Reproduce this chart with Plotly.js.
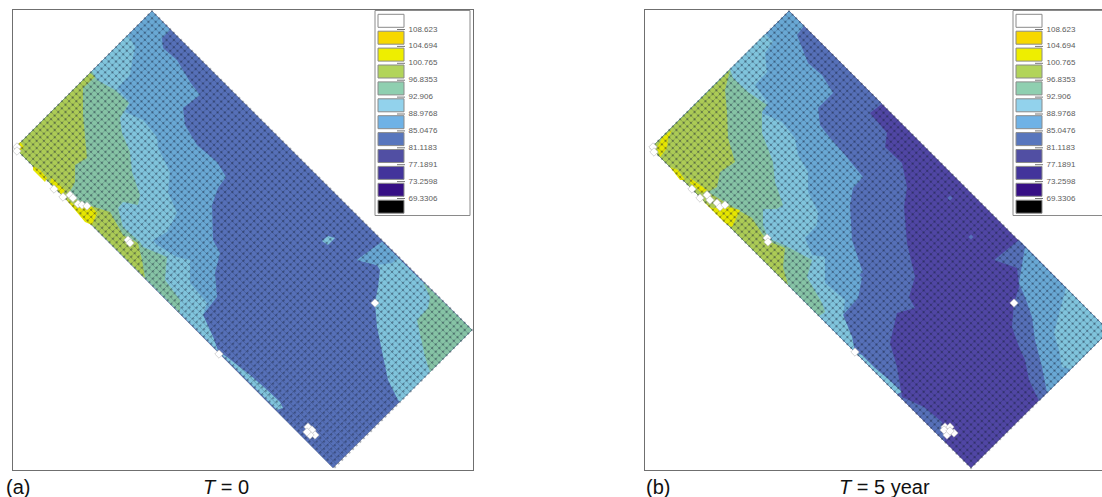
<!DOCTYPE html>
<html><head><meta charset="utf-8">
<script src="https://cdn.plot.ly/plotly-3.0.1.min.js"></script>
<style>html,body{margin:0;padding:0;background:#fff}#c{width:1102px;height:497px}</style></head>
<body><div id="c"></div><script>
// Legend
const legendLabels=['108.623','104.694','100.765','96.8353','92.906','88.9768','85.0476','81.1183','77.1891','73.2598','69.3306'];
const legendColors=['#ffffff','#f7d800','#eeee00','#b2d45a','#8fcfb0','#92d2ec','#6fb2e6','#5876bd','#514fa3','#43349b','#360f85','#000000'];
const C={w:'#ffffff',c105:'#f7d800',c101:'#e6e600',c97:'#accb56',c93:'#86c3a5',c89:'#80c4dc',c85:'#69a8d4',c81:'#5670b8',c77:'#5046a4'};
// Panel (a) mesh rectangle corners (top, right, bottom, left)
const aRect=[[152,11],[472,330],[333,468],[15,148]];
const bRect=[[789,11],[1109,331],[971,468],[651,148]];
const meshCells=[88,38];
// Panel (a) zones
const a85=[[152,11],[170,30],[162,38],[163,48],[177,60],[190,82],[200,95],[183,108],[185,125],[197,145],[217,162],[226,177],[218,188],[212,205],[213,240],[220,253],[215,273],[217,297],[203,315],[213,337],[218,351],[15,148]];
const aStrip=[[218,351],[227,357],[250,375],[265,388],[280,402],[283,408],[277,410]];
const a89=[[128,35],[135,47],[132,62],[130,75],[117,88],[130,103],[125,112],[143,120],[157,137],[158,148],[170,172],[168,192],[177,213],[167,232],[153,240],[157,245],[177,257],[190,260],[190,283],[207,303],[203,315],[213,337],[218,351],[15,148]];
const a93=[[92,71],[97,80],[115,90],[129,103],[120,118],[122,133],[130,152],[132,172],[140,195],[138,205],[123,202],[118,208],[123,227],[140,242],[143,247],[167,257],[165,280],[180,300],[180,313],[15,148]];
const a97=[[90,73],[95,77],[83,88],[83,115],[87,158],[75,165],[75,182],[68,195],[85,204],[97,208],[110,212],[123,235],[138,243],[142,260],[145,278],[15,148]];
const aY1=[[20,142],[24,147],[20,151],[17,146]];
const aY2=[[33,166],[40,170],[47,178],[45,182],[33,170]];
const aY3=[[52,178],[65,190],[62,195],[50,182]];
const aY4=[[65,198],[78,208],[90,205],[97,213],[92,225],[85,222]];
const aE89=[[382,242],[357,260],[377,265],[380,270],[378,287],[375,303],[377,327],[383,357],[388,380],[398,400],[400,402],[472,330]];
const aE85=[[382,242],[357,260],[377,265],[392,263],[398,258]];
const aE93=[[423,282],[430,297],[428,308],[417,320],[422,343],[425,357],[430,372],[472,330]];
const aSpot=[[322,241],[328,236],[335,238],[328,245]];
const aWhiteX=[17,17,54,63,70,73,78,82,87,128,130,219,375,308,312,315,310,307];
const aWhiteY=[147,151,189,197,195,198,204,205,206,240,243,354,303,427,430,435,435,432];
// Panel (b) zones
const bE81=[[1019,240],[994,260],[1017,268],[1019,287],[1014,303],[1012,327],[1019,347],[1025,360],[1029,380],[1039,401],[1109,331]];
const bE85=[[1025,247],[1022,267],[1019,283],[1025,297],[1032,317],[1035,340],[1042,367],[1047,393],[1109,331]];
const bE89=[[1066,288],[1059,313],[1054,333],[1059,350],[1062,367],[1071,369],[1109,331]];
const b81=[[789,11],[882,104],[870,113],[887,133],[885,147],[902,163],[907,187],[904,207],[907,243],[915,277],[909,297],[915,308],[897,313],[890,343],[897,367],[902,397],[924,407],[942,422],[945,442],[651,148]];
const b85=[[789,11],[804,26],[797,35],[802,48],[808,63],[822,75],[833,93],[818,108],[820,125],[830,138],[845,155],[863,177],[853,188],[850,205],[852,240],[863,273],[858,298],[843,315],[852,337],[855,352],[651,148]];
const bStrip=[[855,352],[862,355],[875,368],[887,378],[902,392],[897,394]];
const b89=[[765,34],[773,42],[765,53],[767,72],[755,85],[768,103],[760,112],[782,122],[795,138],[798,155],[808,172],[808,192],[818,212],[817,225],[805,238],[812,255],[825,257],[825,283],[845,300],[843,315],[852,337],[855,352],[651,148]];
const b93=[[730,69],[733,78],[748,92],[767,105],[762,112],[762,133],[773,162],[775,182],[783,205],[777,209],[763,209],[763,225],[768,238],[788,247],[812,260],[807,277],[822,303],[825,312],[819,316],[651,148]];
const b97=[[730,70],[725,90],[727,112],[728,138],[735,162],[720,172],[717,187],[708,192],[738,210],[752,218],[763,235],[773,243],[785,248],[783,267],[788,285],[651,148]];
const bY1=[[672,130],[662,138],[657,148],[660,157],[667,148],[668,138]];
const bY2=[[670,167],[678,170],[685,180],[680,180]];
const bY3=[[690,178],[707,190],[702,193],[690,183]];
const bY4=[[702,200],[712,208],[727,207],[740,210],[732,227],[725,223]];
const bWhiteX=[653,654,692,700,707,710,717,720,725,767,768,855,1014,945,950,954,947,944,950];
const bWhiteY=[147,152,189,198,195,200,203,207,205,238,242,352,303,427,427,433,435,430,431];
const bSpotX=[950,971,862];const bSpotY=[198,237,275];

const W=1102,H=497;
function poly(pts,color,xa,ya){return {type:'scatter',mode:'lines',x:pts.map(p=>p[0]).concat(pts[0][0]),y:pts.map(p=>p[1]).concat(pts[0][1]),fill:'toself',fillcolor:color,line:{width:0},hoverinfo:'skip',showlegend:false,xaxis:xa,yaxis:ya};}
function mesh(r,xa,ya){const x=[],y=[];const [T,R,B,L]=r;const [n,m]=meshCells;
 for(let i=0;i<=n;i++){const f=i/n;x.push(T[0]+(R[0]-T[0])*f,L[0]+(B[0]-L[0])*f,null);y.push(T[1]+(R[1]-T[1])*f,L[1]+(B[1]-L[1])*f,null);}
 for(let j=0;j<=m;j++){const f=j/m;x.push(T[0]+(L[0]-T[0])*f,R[0]+(B[0]-R[0])*f,null);y.push(T[1]+(L[1]-T[1])*f,R[1]+(B[1]-R[1])*f,null);}
 return {type:'scatter',mode:'lines',x,y,line:{color:'rgba(28,38,62,0.3)',width:0.7},hoverinfo:'skip',showlegend:false,xaxis:xa,yaxis:ya};}
// dark gaps left between the round cells, at the mesh nodes
function nodes(r,xa,ya){const x=[],y=[];const [T,R,B,L]=r;const [n,m]=meshCells;
 for(let i=0;i<=n;i++)for(let j=0;j<=m;j++){const f=i/n,g=j/m;x.push(T[0]+(R[0]-T[0])*f+(L[0]-T[0])*g);y.push(T[1]+(R[1]-T[1])*f+(L[1]-T[1])*g);}
 return {type:'scatter',mode:'markers',x,y,marker:{symbol:'diamond',size:2.2,color:'rgba(24,32,54,0.34)',line:{width:0}},hoverinfo:'skip',showlegend:false,xaxis:xa,yaxis:ya};}
function whites(x,y,xa,ya){return {type:'scatter',mode:'markers',x,y,marker:{symbol:'diamond',size:6.5,color:'#fff',line:{color:'#aaa',width:0.5}},hoverinfo:'skip',showlegend:false,xaxis:xa,yaxis:ya};}
const traces=[
 poly(aRect,C.c81,'x','y'),poly(aE89,C.c89,'x','y'),poly(aE85,C.c85,'x','y'),poly(aE93,C.c93,'x','y'),poly(aSpot,C.c89,'x','y'),
 poly(a85,C.c85,'x','y'),poly(aStrip,C.c89,'x','y'),poly(a89,C.c89,'x','y'),poly(a93,C.c93,'x','y'),poly(a97,C.c97,'x','y'),
 poly(aY1,C.c101,'x','y'),poly(aY2,C.c101,'x','y'),poly(aY3,C.c101,'x','y'),poly(aY4,C.c101,'x','y'),
 mesh(aRect,'x','y'),nodes(aRect,'x','y'),whites(aWhiteX,aWhiteY,'x','y'),
 poly(bRect,C.c77,'x2','y2'),poly(bE81,C.c81,'x2','y2'),poly(bE85,C.c85,'x2','y2'),poly(bE89,C.c89,'x2','y2'),
 poly(b81,C.c81,'x2','y2'),poly(b85,C.c85,'x2','y2'),poly(bStrip,C.c89,'x2','y2'),poly(b89,C.c89,'x2','y2'),poly(b93,C.c93,'x2','y2'),poly(b97,C.c97,'x2','y2'),
 poly(bY1,C.c101,'x2','y2'),poly(bY2,C.c101,'x2','y2'),poly(bY3,C.c101,'x2','y2'),poly(bY4,C.c101,'x2','y2'),
 mesh(bRect,'x2','y2'),nodes(bRect,'x2','y2'),whites(bWhiteX,bWhiteY,'x2','y2'),
 {type:'scatter',mode:'markers',x:bSpotX,y:bSpotY,marker:{symbol:'diamond',size:4,color:C.c81},hoverinfo:'skip',showlegend:false,xaxis:'x2',yaxis:'y2'}
];
const shapes=[];
function legend(x0,right,xa,ya){
 shapes.push({type:'rect',xref:xa,yref:ya,x0:x0,x1:right,y0:10.5,y1:215.5,fillcolor:'#fff',line:{color:'#8a8a8a',width:1},layer:'below'});
 legendColors.forEach((c,i)=>{const t=14.3+16.9*i;
  shapes.push({type:'rect',xref:xa,yref:ya,x0:x0+3,x1:x0+29,y0:t,y1:t+13,fillcolor:c,line:{color:'#8a8a8a',width:1},layer:'below'});});
 legendLabels.forEach((c,i)=>{const t=29.5+16.9*i;
  shapes.push({type:'line',xref:xa,yref:ya,x0:x0+22,x1:x0+30,y0:t,y1:t,line:{color:'#777',width:1},layer:'below'});});
 traces.push({type:'scatter',mode:'text',x:legendLabels.map(()=>x0+33.5),y:legendLabels.map((c,i)=>29.5+16.9*i),text:legendLabels,textposition:'middle right',textfont:{family:'Liberation Sans',size:8,color:'#5c5c5c'},hoverinfo:'skip',showlegend:false,xaxis:xa,yaxis:ya});
}
legend(375,470,'x','y');legend(1013,1108,'x2','y2');
const lbl=(t,px)=>({text:t,xref:'paper',yref:'paper',x:px/W,y:1-487/H,xanchor:'left',yanchor:'middle',showarrow:false,align:'left',font:{family:'Liberation Sans',size:20,color:'#111'},borderpad:0,xshift:0});
const ax=(r,dom,anchor,extra)=>Object.assign({range:r,domain:dom,anchor:anchor,showgrid:false,zeroline:false,showticklabels:false,ticks:'',showline:true,linecolor:'#6f6f6f',linewidth:1,mirror:true},extra||{});
const yDom=[1-470/H,1-10/H];
const layout={width:W,height:H,margin:{l:0,r:0,t:0,b:0,pad:0},paper_bgcolor:'#fff',plot_bgcolor:'#fff',showlegend:false,
 xaxis:ax([13,473],[13/W,473/W],'y'),yaxis:ax([470,10],yDom,'x'),
 xaxis2:ax([645,1102],[645/W,1],'y2'),yaxis2:ax([470,10],yDom,'x2',{mirror:false}),
 shapes:shapes,
 annotations:[lbl('(a)',5),lbl('<i>T</i> = 0',202),lbl('(b)',645),lbl('<i>T</i> = 5 year',838)]};
Plotly.newPlot('c',traces,layout,{staticPlot:true,displayModeBar:false});
</script></body></html>
